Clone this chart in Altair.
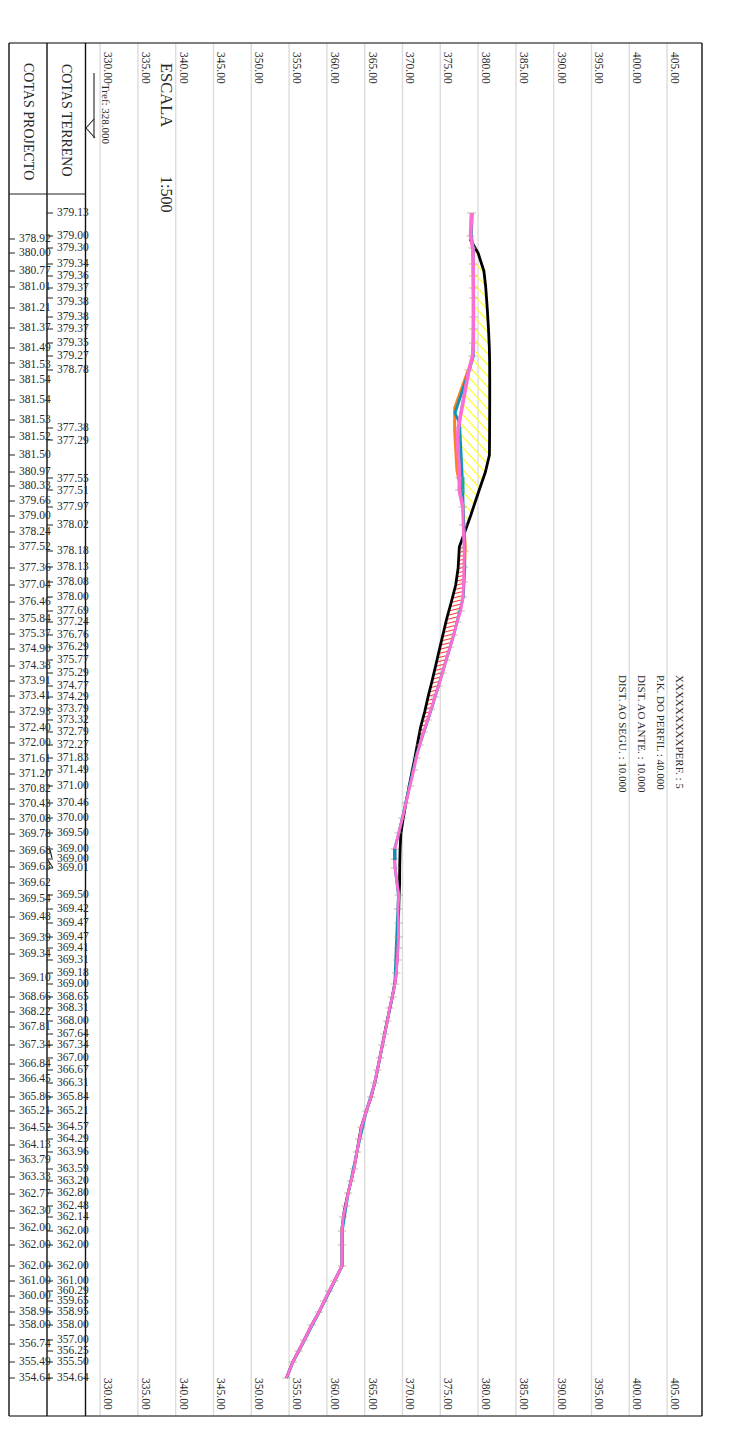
import altair as alt
import numpy as np
import pandas as pd

# elevations and stations (distance along the profile)
terrain_d = [19,42,54,70,82,94,104,123,135,149,162,176,234,246,284,296,313,331,357,373,388,403,417,428,441,453,466,479,492,503,515,526,538,551,564,576,592,609,624,639,655,665,674,701,715,729,743,754,766,779,790,803,814,827,840,851,864,876,889,903,917,933,945,958,975,987,999,1012,1023,1037,1051,1072,1087,1097,1107,1118,1131,1146,1157,1168,1184]
terrain_z = [379.13,379.00,379.30,379.34,379.36,379.37,379.38,379.38,379.37,379.35,379.27,378.78,377.38,377.29,377.55,377.51,377.97,378.02,378.18,378.13,378.08,378.00,377.69,377.24,376.76,376.29,375.77,375.29,374.77,374.29,373.79,373.32,372.79,372.27,371.83,371.49,371.00,370.46,370.00,369.50,369.00,369.00,369.01,369.50,369.42,369.47,369.47,369.41,369.31,369.18,369.00,368.65,368.31,368.00,367.64,367.34,367.00,366.67,366.31,365.84,365.21,364.57,364.29,363.96,363.59,363.20,362.80,362.48,362.14,362.00,362.00,362.00,361.00,360.29,359.65,358.95,358.00,357.00,356.25,355.50,354.64]
project_d = [45,59,77,93,114,134,154,169,186,206,226,243,261,278,292,307,322,338,353,374,391,408,425,440,455,472,487,502,518,533,549,565,580,595,610,625,640,657,673,689,705,723,744,760,784,803,818,833,851,870,885,903,917,934,951,966,983,1000,1017,1034,1051,1072,1087,1102,1118,1131,1150,1168,1184]
project_z = [378.92,380.00,380.77,381.01,381.21,381.37,381.49,381.53,381.54,381.54,381.53,381.52,381.50,380.97,380.33,379.66,379.00,378.24,377.52,377.36,377.04,376.46,375.84,375.37,374.90,374.38,373.91,373.41,372.93,372.40,372.00,371.61,371.20,370.82,370.43,370.08,369.78,369.68,369.63,369.62,369.54,369.48,369.39,369.34,369.10,368.66,368.22,367.81,367.34,366.84,366.45,365.86,365.21,364.52,364.13,363.79,363.33,362.77,362.30,362.00,362.00,362.00,361.00,360.00,358.96,358.00,356.74,355.49,354.64]
blue_d = [19,42,54,162,176,219,229,290,373,403,441,515,560,639,655,665,674,701,790,840,889,917,958,1000,1037,1072,1118,1168,1184]
blue_z = [379.22,379.12,379.38,379.38,378.84,376.95,377.55,377.95,378.25,378.05,376.78,373.83,371.88,369.52,368.95,368.95,369.03,369.46,368.98,367.66,366.33,365.23,363.97,362.80,362.03,362.02,358.97,355.52,354.68]
orange_d = [176,214,236,276,303,353,373]
orange_z = [378.7,376.9,376.9,377.2,377.9,378.3,378.2]
teal_d = [283,299]
teal_z = [378.0,378.0]
grid_z = [330,335,340,345,350,355,360,365,370,375,380,385,390,395,400,405]
terrain_label_shift = {6: 4, 13: 1, 14: 1, 15: 1}
project_label_shift = {7: 2, 29: 1}
notes = ["XXXXXXXXXPERF. : 5", "P.K. DO PERFIL : 40.000", "DIST. AO ANTE. : 10.000", "DIST. AO SEGU. : 10.000"]
notes_z = [406.6, 404.0, 401.5, 399.0]

W, H = 693, 1373
PX = 7.56  # horizontal pixels per metre of elevation
x_scale = alt.Scale(domain=[317.95, 409.62], nice=False, zero=False)
y_scale = alt.Scale(domain=[-151, 1222], nice=False, zero=False, reverse=True)
X = lambda f="z": alt.X(f"{f}:Q", scale=x_scale, axis=None)
Y = lambda f="d": alt.Y(f"{f}:Q", scale=y_scale, axis=None)
FONT = "Liberation Serif"
INK = "#2a2a2a"

terrain = pd.DataFrame({"d": terrain_d, "z": terrain_z})
project = pd.DataFrame({"d": project_d, "z": project_z})
terrain["lab"] = [f"{v:.2f}" for v in terrain_z]
project["lab"] = [f"{v:.2f}" for v in project_z]
terrain["ld"] = [d + terrain_label_shift.get(i, 0) for i, d in enumerate(terrain_d)]
project["ld"] = [d + project_label_shift.get(i, 0) for i, d in enumerate(project_d)]
grid = pd.DataFrame({"z": grid_z, "lab": [f"{v:.2f}" for v in grid_z]})


def series_line(d, z, color, width):
    return alt.Chart(pd.DataFrame({"d": d, "z": z})).mark_line(
        color=color, strokeWidth=width, strokeJoin="round", interpolate="linear"
    ).encode(x=X(), y=alt.Y("d:Q", scale=y_scale, axis=None, sort=None), order="d:Q")


def hatch(c_values, slope, lower, upper, dmin, dmax):
    rows = []
    ds = np.arange(dmin, dmax, 0.25)
    lo, up = lower(ds), upper(ds)
    for c in c_values:
        x = (ds - c) / slope / PX + 328
        m = (x > lo) & (x < up)
        if m.sum() > 1:
            rows.append({"z": x[m].min(), "z2": x[m].max(),
                         "d": ds[m][np.argmin(x[m])], "d2": ds[m][np.argmax(x[m])]})
    return pd.DataFrame(rows)


T = lambda v: np.interp(v, terrain_d, terrain_z)
P = lambda v: np.interp(v, project_d, project_z)
yellow = hatch(np.arange(-800, 0, 11.0), 1.1, T, P, 45, 345)
red = hatch(np.arange(-500, 1500, 4.0), -0.25, P, T, 350, 560)


def hatch_layer(df, color, width=1):
    return alt.Chart(df).mark_rule(color=color, strokeWidth=width).encode(
        x=X(), x2="z2:Q", y=Y(), y2="d2:Q")


def text_at(text, z, d, size, angle=90, color=INK):
    return alt.Chart(pd.DataFrame({"z": [z], "d": [d], "t": [text]})).mark_text(
        font=FONT, fontSize=size, angle=angle, align="left", baseline="middle", color=color
    ).encode(x=X(), y=Y(), text="t:N")


def px_text(text, xpx, d, size):
    return alt.Chart(pd.DataFrame({"d": [d], "t": [text]})).mark_text(
        font=FONT, fontSize=size, angle=90, align="left", baseline="middle", color=INK
    ).encode(x=alt.value(xpx), y=Y(), text="t:N")


def hline(d, x0, x1, color="#222222", width=1.2):
    return alt.Chart(pd.DataFrame({"d": [d]})).mark_rule(color=color, strokeWidth=width).encode(
        x=alt.value(x0), x2=alt.value(x1), y=Y())


def seg(x0, d0, x1, d1, color="#222222", width=1.1):
    return alt.Chart(pd.DataFrame({"d": [d0], "d2": [d1]})).mark_rule(color=color, strokeWidth=width).encode(
        x=alt.value(x0), x2=alt.value(x1), y=Y(), y2="d2:Q")


def vline(x0, color="#111111", width=1.4):
    return alt.Chart(pd.DataFrame({"a": [0]})).mark_rule(color=color, strokeWidth=width).encode(
        x=alt.value(x0), y=alt.value(0), y2=alt.value(H))


layers = []
# grid
layers.append(alt.Chart(grid).mark_rule(color="#dcdcdc", strokeWidth=1.4).encode(
    x=X(), y=alt.value(0), y2=alt.value(H)))
for d0 in (-142, 1184):
    layers.append(alt.Chart(grid).mark_text(
        font=FONT, fontSize=11.5, angle=90, align="left", baseline="middle", color=INK, dy=-7
    ).transform_calculate(d=str(d0)).encode(x=X(), y=Y(), text="lab:N"))
# hatching
layers.append(hatch_layer(yellow, "#ffff33", 1.2))
layers.append(hatch_layer(red, "#ff3b3b", 1.2))
# profile lines
layers.append(series_line(project_d, project_z, "#000000", 2.8))
layers.append(series_line(orange_d, orange_z, "#ff7f1e", 3))
layers.append(series_line(blue_d, blue_z, "#0a94b8", 2.8))
layers.append(series_line(teal_d, teal_z, "#12a89a", 3))
layers.append(alt.Chart(terrain).mark_point(
    shape="M -1 0 L 1 0", size=70, stroke="#a89a78", strokeWidth=1, fill=None
).encode(x=X(), y=Y()))
layers.append(series_line(terrain_d, terrain_z, "#fb6fd4", 2.9))
layers.append(series_line(terrain_d[:17], terrain_z[:17], "#fb6fd4", 3.6))
layers.append(series_line([655, 666], [368.98, 368.98], "#0a94b8", 3.4))
# frame and columns
layers.append(hline(-151, 0, W, "#555555", 1.6))
layers.append(hline(1222, 0, W, "#555555", 1.6))
layers.append(vline(0))
layers.append(vline(38))
layers.append(vline(76.5))
layers.append(vline(W))
layers.append(hline(0, 0, 76.5))
# column ticks and labels
for df, x0, x1, xt in ((project, 0, 6, 10), (terrain, 38, 44, 48)):
    layers.append(alt.Chart(df).mark_rule(color="#222222", strokeWidth=1).encode(
        x=alt.value(x0), x2=alt.value(x1), y=Y()))
    layers.append(alt.Chart(df).mark_text(
        font=FONT, fontSize=11.5, align="left", baseline="middle", color=INK
    ).encode(x=alt.value(xt), y=Y("ld"), text="lab:N"))
# leader marks
layers.append(seg(41, 656, 43, 664))
layers.append(seg(39, 666, 44, 674))
# headers
layers.append(px_text("COTAS PROJECTO", 19, -131, 14))
layers.append(px_text("COTAS TERRENO", 57, -130, 14))
layers.append(px_text("ESCALA", 157, -131, 16.5))
layers.append(px_text("1:500", 157, -18, 16))
layers.append(px_text("Tref: 328.000", 96, -110, 11))
# level symbol
layers.append(seg(85, -121, 85, -56))
layers.append(seg(85, -75, 77, -66))
layers.append(seg(77, -66, 86, -56))
# notes
for n, z in zip(notes, notes_z):
    layers.append(text_at(n, z, 481, 11))

chart = alt.layer(*layers).properties(
    width=W, height=H, autosize="none",
    padding={"left": 1, "top": 35, "right": 8, "bottom": 8},
).configure_view(stroke=None)

chart.save("out.html", embed_options={"renderer": "svg", "actions": False})
